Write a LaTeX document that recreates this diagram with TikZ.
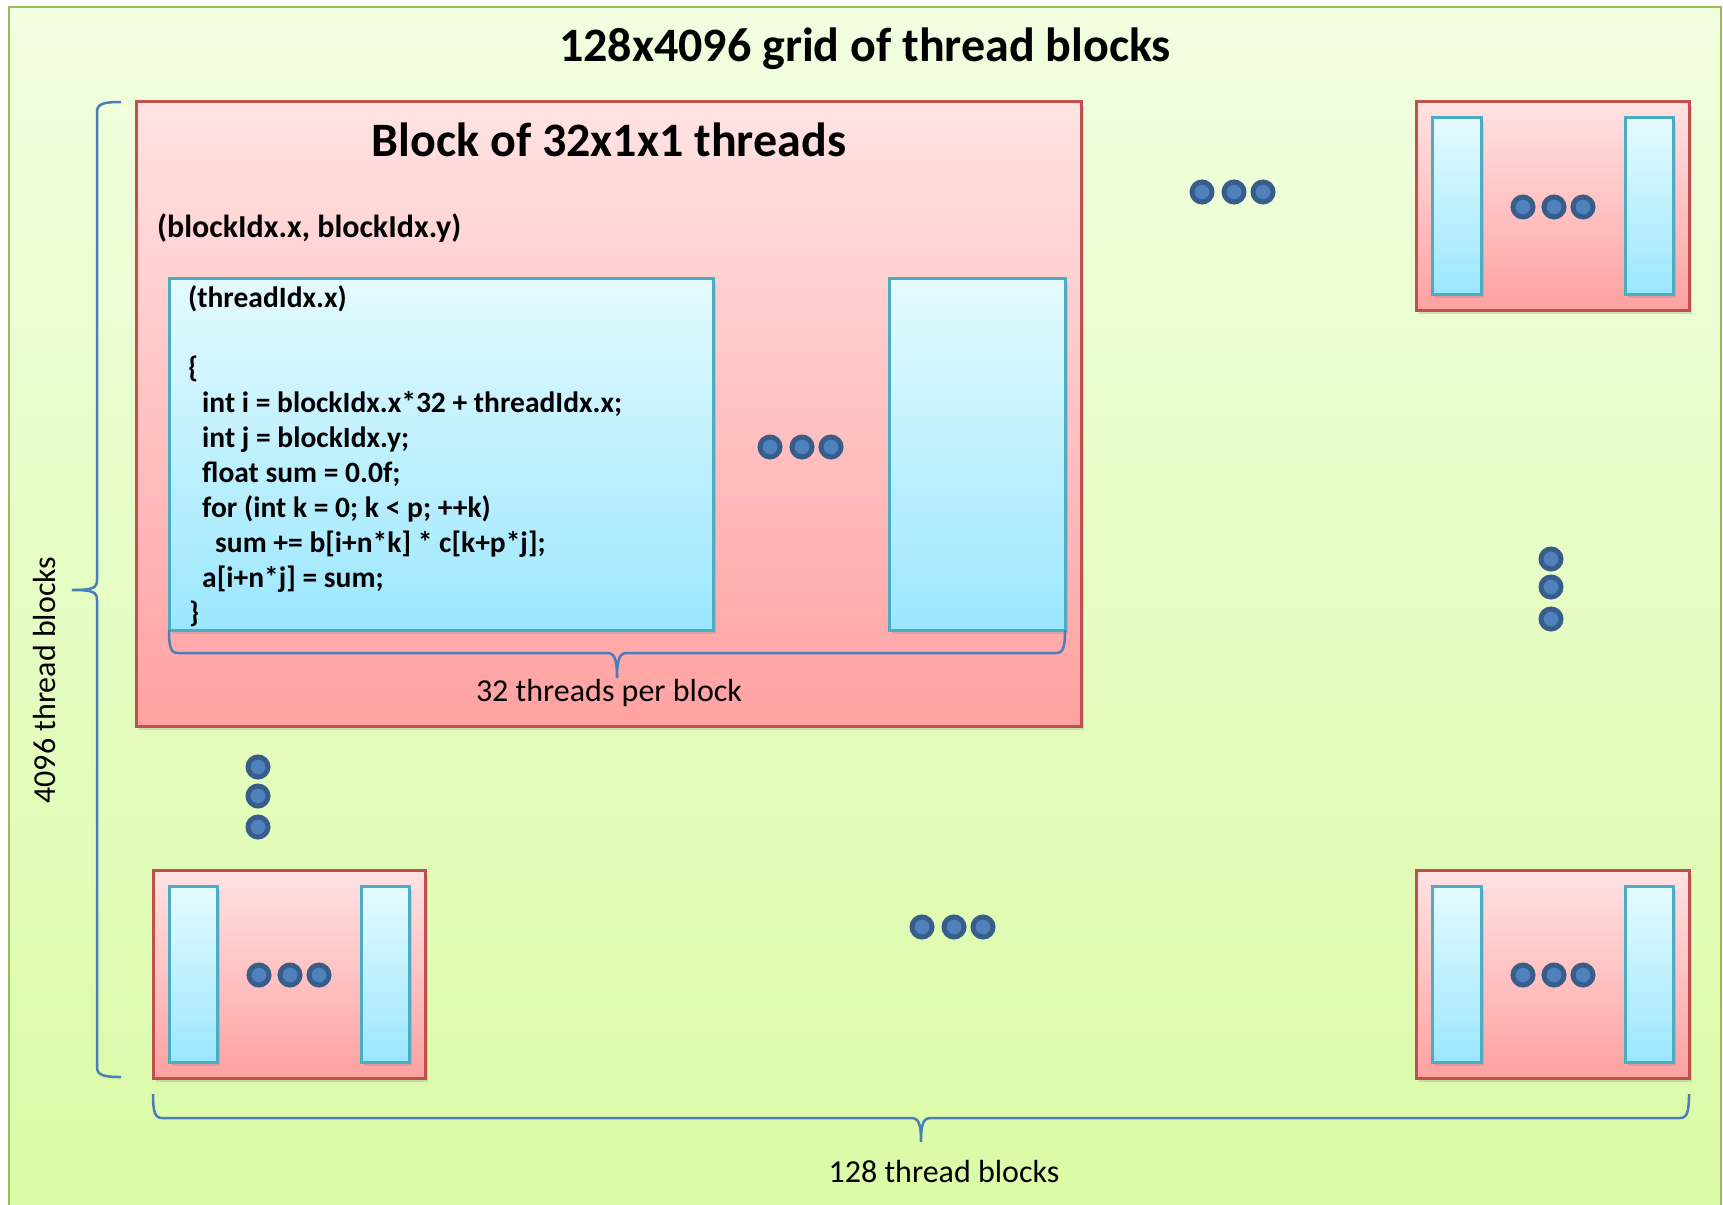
\documentclass[tikz,border=0pt]{standalone}
\usepackage{fontspec}
\setmainfont{Carlito}
\usetikzlibrary{shadows}
\definecolor{gridb}{HTML}{9BBB59}
\definecolor{gridt}{HTML}{F1FEE0}
\definecolor{gridbot}{HTML}{DAFBA6}
\definecolor{redb}{HTML}{C0504D}
\definecolor{redt}{HTML}{FFE3E3}
\definecolor{redbot}{HTML}{FFA1A1}
\definecolor{blueb}{HTML}{4BACC6}
\definecolor{bluet}{HTML}{E4FAFF}
\definecolor{bluebot}{HTML}{9BE7FD}
\definecolor{dotb}{HTML}{385D8A}
\definecolor{dotf}{HTML}{4F81BD}
\definecolor{bracec}{HTML}{4A7EBB}
\begin{document}
\begin{tikzpicture}[x=1pt,y=-1pt,
  frame/.style={rectangle, draw=gridb, line width=2.5pt, top color=gridt, bottom color=gridbot, inner sep=0pt},
  blk/.style={rectangle, draw=redb, line width=3pt, top color=redt, bottom color=redbot, inner sep=0pt,
    drop shadow={shadow xshift=3pt, shadow yshift=-4pt, opacity=0.25}},
  thr/.style={rectangle, draw=blueb, line width=3pt, top color=bluet, bottom color=bluebot, inner sep=0pt,
    drop shadow={shadow xshift=3pt, shadow yshift=-4pt, opacity=0.25}},
  dotn/.style={circle, draw=dotb, fill=dotf, line width=5pt, minimum size=20pt, inner sep=0pt},
  bigtxt/.style={inner sep=0pt, font=\fontsize{48}{58}\selectfont\bfseries},
  codetxt/.style={inner sep=0pt, anchor=base west, font=\fontsize{29.5}{35}\selectfont\bfseries},
  lbltxt/.style={inner sep=0pt, anchor=base, font=\fontsize{32}{38}\selectfont},
  bracel/.style={draw=bracec, line width=2.5pt}
]
\useasboundingbox (0,0) rectangle (1723,1204);
\clip (0,0) rectangle (1723,1204);
% outer grid frame
\node[frame, minimum width=1712pt, minimum height=1208pt] (grid) at (865,611) {};
\node[bigtxt, anchor=base] (title) at (865,62) {128x4096 grid of thread blocks};

% big block
\node[blk, minimum width=945pt, minimum height=624pt] (big) at (608.5,414) {};
\node[bigtxt, anchor=base] (bigtitle) at (609,157) {Block of 32x1x1 threads};
\node[codetxt, font=\fontsize{32}{38}\selectfont\bfseries] (bidx) at (157,237) {(blockIdx.x, blockIdx.y)};
\node[thr, minimum width=544pt, minimum height=352pt] (code) at (441,454) {};
\node[thr, minimum width=176pt, minimum height=352pt] (thrR) at (977,454) {};
\node[codetxt] (tidx) at (188,307) {(threadIdx.x)};
\node[codetxt] (c1) at (188,377) {\{};
\node[codetxt] (c2) at (202,412) {int i = blockIdx.x*32 + threadIdx.x;};
\node[codetxt] (c3) at (202,447) {int j = blockIdx.y;};
\node[codetxt] (c4) at (202,482) {float sum = 0.0f;};
\node[codetxt] (c5) at (202,517) {for (int k = 0; k < p; ++k)};
\node[codetxt] (c6) at (215,552) {sum += b[i+n*k] * c[k+p*j];};
\node[codetxt] (c7) at (202,587) {a[i+n*j] = sum;};
\node[codetxt] (c8) at (189,622) {\}};
\node[dotn] (bd1) at (770,447) {};
\node[dotn] (bd2) at (802,447) {};
\node[dotn] (bd3) at (831,447) {};
% brace under threads
\draw[bracel] (169,630) .. controls (169,648) and (171,653) .. (178,653) -- (607,653)
  .. controls (614,653) and (617,658) .. (617,678)
  .. controls (617,658) and (620,653) .. (627,653) -- (1056,653)
  .. controls (1063,653) and (1065,648) .. (1065,630);
\node[lbltxt] (thrlbl) at (609,701) {32 threads per block};

% top right block
\node[blk, minimum width=273pt, minimum height=208pt] (tr) at (1552.5,206) {};
\node[thr, minimum width=49pt, minimum height=176pt] (tr1) at (1456.5,206) {};
\node[thr, minimum width=48pt, minimum height=176pt] (tr2) at (1649,206) {};
\node[dotn] (trd1) at (1523,207) {};
\node[dotn] (trd2) at (1554,207) {};
\node[dotn] (trd3) at (1583,207) {};

% dots between top blocks
\node[dotn] (td1) at (1202,192) {};
\node[dotn] (td2) at (1234,192) {};
\node[dotn] (td3) at (1263,192) {};
% right vertical dots
\node[dotn] (rv1) at (1551,559) {};
\node[dotn] (rv2) at (1551,587) {};
\node[dotn] (rv3) at (1551,619) {};
% left vertical dots
\node[dotn] (lv1) at (258,767) {};
\node[dotn] (lv2) at (258,796) {};
\node[dotn] (lv3) at (258,827) {};

% bottom left block
\node[blk, minimum width=272pt, minimum height=208pt] (bl) at (289,974) {};
\node[thr, minimum width=48pt, minimum height=176pt] (bl1) at (193,974) {};
\node[thr, minimum width=48pt, minimum height=176pt] (bl2) at (385,974) {};
\node[dotn] (bld1) at (259,975) {};
\node[dotn] (bld2) at (290,975) {};
\node[dotn] (bld3) at (319,975) {};

% bottom middle dots
\node[dotn] (bm1) at (922,927) {};
\node[dotn] (bm2) at (954,927) {};
\node[dotn] (bm3) at (983,927) {};

% bottom right block
\node[blk, minimum width=273pt, minimum height=208pt] (br) at (1552.5,974) {};
\node[thr, minimum width=49pt, minimum height=176pt] (br1) at (1456.5,974) {};
\node[thr, minimum width=48pt, minimum height=176pt] (br2) at (1649,974) {};
\node[dotn] (brd1) at (1523,975) {};
\node[dotn] (brd2) at (1554,975) {};
\node[dotn] (brd3) at (1583,975) {};

% left brace
\draw[bracel] (121,102) .. controls (103,102) and (97,104) .. (97,112) -- (97,580)
  .. controls (97,588) and (93,590) .. (72,590)
  .. controls (93,590) and (97,592) .. (97,600) -- (97,1067)
  .. controls (97,1075) and (103,1077) .. (121,1077);
\node[lbltxt, rotate=90] (vlbl) at (55,680) {4096 thread blocks};

% bottom brace
\draw[bracel] (153,1094) .. controls (153,1112) and (155,1118) .. (162,1118) -- (911,1118)
  .. controls (918,1118) and (921,1122) .. (921,1142)
  .. controls (921,1122) and (924,1118) .. (931,1118) -- (1680,1118)
  .. controls (1687,1118) and (1689,1112) .. (1689,1094);
\node[lbltxt] (hlbl) at (944,1182) {128 thread blocks};
\end{tikzpicture}
\end{document}
